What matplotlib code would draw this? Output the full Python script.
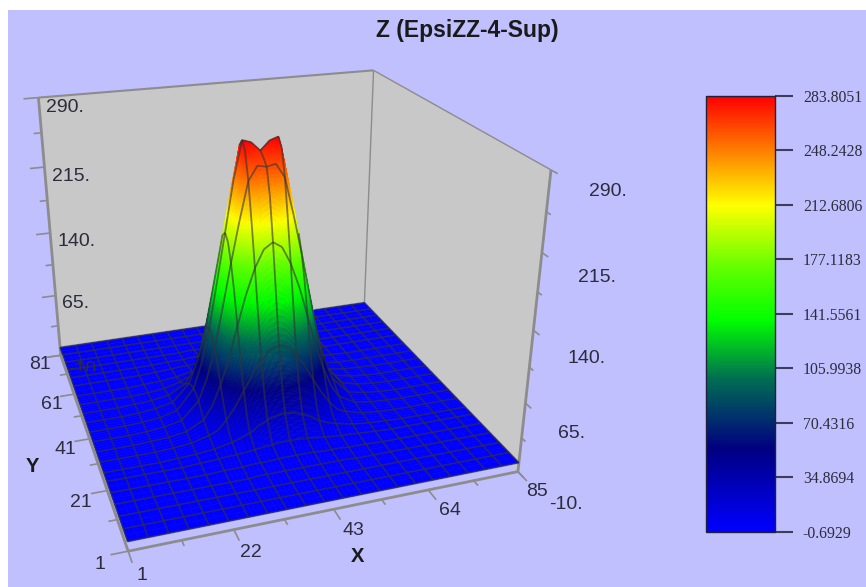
import numpy as np
import matplotlib
matplotlib.use('Agg')
import matplotlib.pyplot as plt
from matplotlib.cm import ScalarMappable
from matplotlib.colors import LinearSegmentedColormap, Normalize
from matplotlib.patches import Rectangle
from matplotlib.path import Path
from matplotlib.transforms import IdentityTransform
from mpl_toolkits.mplot3d import proj3d
from mpl_toolkits.mplot3d.art3d import Poly3DCollection, Line3DCollection

plt.rcParams['font.family'] = ['Liberation Sans', 'DejaVu Sans']

W, H = 866, 587

# surface values, one row per y grid line (finer around the peak)
x_grid = [1, 5, 9, 13, 17, 21, 25, 27, 29, 31, 33, 35, 37, 39, 41, 43, 45, 47, 49, 51, 53, 55, 57, 61, 65, 69, 73, 77, 81, 85]
y_grid = [1, 5, 9, 13, 17, 21, 24.2, 26.2, 28.2, 30.2, 32.2, 34.2, 36.2, 38.2, 40.2, 42.2, 44.2, 46.2, 48.2, 50.2, 52.2, 54.2, 56.2, 61, 65, 69, 73, 77, 81]
z_rows = [
    [0, 0, 0, 0, 0, 0, 0, 0, 0, 0, 0, 0, 0, 0, 0, 0, 0, 0, 0, 0, 0, 0, 0, 0, 0, 0, 0, 0, 0, 0],
    [0, 0, 0, 0, 0, 0, 0, 0, 0, 0, 0, 0, 0, 0, 0, 0, 0, 0, 0, 0, 0, 0, 0, 0, 0, 0, 0, 0, 0, 0],
    [0, 0, 0, 0, 0, 0, 0, 0, 0, 0, 0, 0, 0, 0, 0, 0, 0, 0, 0, 0, 0, 0, 0, 0, 0, 0, 0, 0, 0, 0],
    [0, 0, 0, 0, 0, 0, 0, 0, 0, 1, 1, 1, 1, 1, 1, 1, 1, 1, 1, 1, 0, 0, 0, 0, 0, 0, 0, 0, 0, 0],
    [0, 0, 0, 0, 0, 0, 1, 1, 1, 2, 2, 2, 3, 3, 3, 3, 3, 2, 2, 2, 1, 1, 1, 0, 0, 0, 0, 0, 0, 0],
    [0, 0, 0, 0, 0, 1, 2, 3, 3, 4, 5, 6, 7, 8, 8, 8, 7, 6, 5, 4, 3, 3, 2, 1, 0, 0, 0, 0, 0, 0],
    [0, 0, 0, 0, 1, 2, 4, 6, 8, 11, 15, 21, 26, 29, 30, 29, 26, 21, 15, 11, 8, 6, 4, 2, 1, 0, 0, 0, 0, 0],
    [0, 0, 0, 0, 1, 3, 6, 9, 12, 20, 29, 40, 49, 55, 57, 55, 49, 40, 29, 20, 12, 9, 6, 3, 1, 0, 0, 0, 0, 0],
    [0, 0, 0, 0, 1, 3, 8, 12, 22, 35, 51, 68, 81, 92, 95, 92, 81, 68, 51, 35, 22, 12, 8, 3, 1, 0, 0, 0, 0, 0],
    [0, 0, 0, 1, 2, 4, 11, 20, 35, 55, 78, 103, 125, 139, 144, 139, 125, 103, 78, 55, 35, 20, 11, 4, 2, 1, 0, 0, 0, 0],
    [0, 0, 0, 1, 2, 5, 15, 29, 51, 78, 112, 144, 170, 188, 194, 188, 170, 144, 112, 78, 51, 29, 15, 5, 2, 1, 0, 0, 0, 0],
    [0, 0, 0, 1, 2, 6, 21, 40, 68, 103, 144, 182, 212, 231, 237, 231, 212, 182, 144, 103, 68, 40, 21, 6, 2, 1, 0, 0, 0, 0],
    [0, 0, 0, 1, 3, 7, 26, 49, 81, 125, 170, 212, 250, 264, 262, 264, 250, 212, 170, 125, 81, 49, 26, 7, 3, 1, 0, 0, 0, 0],
    [0, 0, 0, 1, 3, 8, 29, 55, 92, 139, 188, 233, 276, 270, 268, 270, 276, 233, 188, 139, 92, 55, 29, 8, 3, 1, 0, 0, 0, 0],
    [0, 0, 0, 1, 3, 8, 30, 57, 95, 144, 194, 245, 284, 281, 272, 281, 284, 245, 194, 144, 95, 57, 30, 8, 3, 1, 0, 0, 0, 0],
    [0, 0, 0, 1, 3, 8, 29, 55, 92, 139, 188, 233, 276, 270, 268, 270, 276, 233, 188, 139, 92, 55, 29, 8, 3, 1, 0, 0, 0, 0],
    [0, 0, 0, 1, 3, 7, 26, 49, 81, 125, 170, 212, 250, 264, 262, 264, 250, 212, 170, 125, 81, 49, 26, 7, 3, 1, 0, 0, 0, 0],
    [0, 0, 0, 1, 2, 6, 21, 40, 68, 103, 144, 182, 212, 231, 237, 231, 212, 182, 144, 103, 68, 40, 21, 6, 2, 1, 0, 0, 0, 0],
    [0, 0, 0, 1, 2, 5, 15, 29, 51, 78, 112, 144, 170, 188, 194, 188, 170, 144, 112, 78, 51, 29, 15, 5, 2, 1, 0, 0, 0, 0],
    [0, 0, 0, 1, 2, 4, 11, 20, 35, 55, 78, 103, 125, 139, 144, 139, 125, 103, 78, 55, 35, 20, 11, 4, 2, 1, 0, 0, 0, 0],
    [0, 0, 0, 0, 1, 3, 8, 12, 22, 35, 51, 68, 81, 92, 95, 92, 81, 68, 51, 35, 22, 12, 8, 3, 1, 0, 0, 0, 0, 0],
    [0, 0, 0, 0, 1, 3, 6, 9, 12, 20, 29, 40, 49, 55, 57, 55, 49, 40, 29, 20, 12, 9, 6, 3, 1, 0, 0, 0, 0, 0],
    [0, 0, 0, 0, 1, 2, 4, 6, 8, 11, 15, 21, 26, 29, 30, 29, 26, 21, 15, 11, 8, 6, 4, 2, 1, 0, 0, 0, 0, 0],
    [0, 0, 0, 0, 0, 1, 2, 3, 3, 4, 5, 6, 7, 8, 8, 8, 7, 6, 5, 4, 3, 3, 2, 1, 0, 0, 0, 0, 0, 0],
    [0, 0, 0, 0, 0, 0, 1, 1, 1, 2, 2, 2, 3, 3, 3, 3, 3, 2, 2, 2, 1, 1, 1, 0, 0, 0, 0, 0, 0, 0],
    [0, 0, 0, 0, 0, 0, 0, 0, 0, 1, 1, 1, 1, 1, 1, 1, 1, 1, 1, 1, 0, 0, 0, 0, 0, 0, 0, 0, 0, 0],
    [0, 0, 0, 0, 0, 0, 0, 0, 0, 0, 0, 0, 0, 0, 0, 0, 0, 0, 0, 0, 0, 0, 0, 0, 0, 0, 0, 0, 0, 0],
    [0, 0, 0, 0, 0, 0, 0, 0, 0, 0, 0, 0, 0, 0, 0, 0, 0, 0, 0, 0, 0, 0, 0, 0, 0, 0, 0, 0, 0, 0],
    [0, 0, 0, 0, 0, 0, 0, 0, 0, 0, 0, 0, 0, 0, 0, 0, 0, 0, 0, 0, 0, 0, 0, 0, 0, 0, 0, 0, 0, 0],
]
# which grid lines carry a drawn mesh line
x_mesh = [1, 5, 9, 13, 17, 21, 25, 29, 33, 37, 41, 45, 49, 53, 57, 61, 65, 69, 73, 77, 81, 85]
y_mesh = [1, 5, 9, 13, 17, 21, 24.2, 28.2, 32.2, 36.2, 40.2, 44.2, 48.2, 52.2, 56.2, 61, 65, 69, 73, 77, 81]

x_ticks = [1, 22, 43, 64, 85]
y_ticks = [1, 21, 41, 61, 81]
z_ticks = [-10, 65, 140, 215, 290]
bar_ticks = [-0.6929, 34.8694, 70.4316, 105.9938, 141.5561, 177.1183, 212.6806, 248.2428, 283.8051]
bar_labels = ['-0.6929', '34.8694', '70.4316', '105.9938', '141.5561', '177.1183', '212.6806', '248.2428', '283.8051']

cmap = LinearSegmentedColormap.from_list('rainbow3d', [
    (0.0, (0, 0, 1)), (0.19, (0, 0, 0.5)), (0.35, (0, 0.43, 0.32)), (0.486, (0, 1, 0)),
    (0.61, (0.4, 1, 0)), (0.75, (1, 1, 0)), (1.0, (1, 0, 0))])
norm = Normalize(bar_ticks[0], bar_ticks[-1])

fig = plt.figure(figsize=(W / 100, H / 100), dpi=100, facecolor='white')
fig.add_artist(Rectangle((8 / W, 0), 1, 1 - 10 / H, transform=fig.transFigure,
                         fc='#c0c0ff', ec='none', zorder=-1))

# axes square and view come from a fit to the box corners in the picture
ax = fig.add_axes([-37.9 / W, 4.1 / H, 596.05 / W, 596.05 / H], projection='3d', computed_zorder=False)
ax.set_xlim(1, 85)
ax.set_ylim(1, 81)
ax.set_zlim(-10, 290)
ax.view_init(elev=24.04, azim=-108.48)
ax.set_proj_type('persp', focal_length=0.3425)
ax.set_box_aspect((1.2184, 1.2074, 0.9753))
ax.set_axis_off()
ax.patch.set_visible(False)

xmin, xmax = x_ticks[0], x_ticks[-1]
ymin, ymax = y_ticks[0], y_ticks[-1]
zmin, zmax = z_ticks[0], z_ticks[-1]

# walls
walls = [[(xmin, ymax, zmin), (xmax, ymax, zmin), (xmax, ymax, zmax), (xmin, ymax, zmax)],
         [(xmax, ymax, zmin), (xmax, ymin, zmin), (xmax, ymin, zmax), (xmax, ymax, zmax)]]
ax.add_collection3d(Poly3DCollection(walls, facecolors='#c8c8c8', edgecolors='none', zorder=1))

# box lines and ticks
axis_c = '#8c8c8c'
txt_c = '#2c2c3c'
def seg(p, q, lw=2.0, z=3):
    ax.plot([p[0], q[0]], [p[1], q[1]], [p[2], q[2]], color=axis_c, lw=lw, zorder=z, solid_capstyle='butt')

seg((xmin, ymax, zmin), (xmin, ymax, zmax))
seg((xmax, ymin, zmin), (xmax, ymin, zmax))
seg((xmin, ymin, zmin), (xmax, ymin, zmin), z=6)
seg((xmin, ymin, zmin), (xmin, ymax, zmin), z=6)
seg((xmin, ymax, zmax), (xmax, ymax, zmax), lw=1.5)
seg((xmax, ymax, zmax), (xmax, ymin, zmax), lw=1.0)
seg((xmax, ymax, zmin), (xmax, ymax, zmax), lw=1.0)

for i, v in enumerate(z_ticks):
    seg((xmin, ymax, v), (xmin - 3.4, ymax, v), lw=1.2)
    seg((xmax, ymin, v), (xmax, ymin - 2.2, v), lw=1.2)
    if i < 4:
        m = (v + z_ticks[i + 1]) / 2
        seg((xmin, ymax, m), (xmin - 1.8, ymax, m), lw=1.2)
        seg((xmax, ymin, m), (xmax, ymin - 1.5, m), lw=1.2)
for i, v in enumerate(x_ticks):
    seg((v, ymin, zmin), (v, ymin - 3.5, zmin), lw=1.2, z=6)
    if i < 4:
        m = (v + x_ticks[i + 1]) / 2
        seg((m, ymin, zmin), (m, ymin - 1.8, zmin), lw=1.2, z=6)
for i, v in enumerate(y_ticks):
    seg((xmin, v, zmin), (xmin - 3.4, v, zmin), lw=1.2, z=6)
    if i < 4:
        m = (v + y_ticks[i + 1]) / 2
        seg((xmin, m, zmin), (xmin - 1.8, m, zmin), lw=1.2, z=6)

# tick labels
fs = 14
for v in z_ticks[1:]:
    ax.text(xmin + 1.5, ymax, v - 11, f'{v}.', fontsize=fs, color=txt_c, ha='left', va='center', zorder=2)
    ax.text(xmax, ymin - 12, v, f'{v}.', fontsize=fs, color=txt_c, ha='left', va='center', zorder=2)
ax.text(xmax, ymin - 12, zmin, f'{zmin}.', fontsize=fs, color=txt_c, ha='left', va='center', zorder=2)
# the left -10 label only shows as a sliver on top of the floor
low = ax.text(xmin + 1.5, ymax, zmin - 20, f'{zmin}.', fontsize=fs, color=txt_c, ha='left', va='center', zorder=7)
low.set_clip_path(Rectangle((0, H - 371), W, 371, transform=IdentityTransform()))
low.set_clip_on(True)
for v in x_ticks:
    ax.text(v + (1 if v < xmax else 0), ymin - 7.4, zmin, str(v), fontsize=fs, color=txt_c, ha='center', va='center', zorder=6)
for v in y_ticks:
    ax.text(xmin - 5.5, v, zmin - 8, str(v), fontsize=fs, color=txt_c, ha='center', va='center', zorder=6)

# surface: each grid cell split into small faces so the colour runs smoothly
X, Y = np.meshgrid(np.array(x_grid, float), np.array(y_grid, float))
Z = np.array(z_rows, float)
nr, nc = Z.shape
polys, vals = [], []
for i in range(nr - 1):
    for j in range(nc - 1):
        sub = 8 if Z[i:i + 2, j:j + 2].max() > 15 else 2
        t = np.linspace(0, 1, sub + 1)
        zc = (np.outer(1 - t, 1 - t) * Z[i, j] + np.outer(1 - t, t) * Z[i, j + 1]
              + np.outer(t, 1 - t) * Z[i + 1, j] + np.outer(t, t) * Z[i + 1, j + 1])
        xc = X[i, j] + t * (X[i, j + 1] - X[i, j])
        yc = Y[i, j] + t * (Y[i + 1, j] - Y[i, j])
        for a in range(sub):
            for b in range(sub):
                polys.append([(xc[b], yc[a], zc[a, b]), (xc[b + 1], yc[a], zc[a, b + 1]),
                              (xc[b + 1], yc[a + 1], zc[a + 1, b + 1]), (xc[b], yc[a + 1], zc[a + 1, b])])
                vals.append((zc[a, b] + zc[a, b + 1] + zc[a + 1, b + 1] + zc[a + 1, b]) / 4)
cols = cmap(norm(np.array(vals)))
ax.add_collection3d(Poly3DCollection(polys, facecolors=cols, edgecolors=cols, linewidths=0.4, zorder=4))

# mesh lines, hidden parts removed against the tall cells
M = ax.get_proj()
px, py, pz = proj3d.proj_transform(X.ravel(), Y.ravel(), Z.ravel(), M)
px = np.asarray(px).reshape(Z.shape)
py = np.asarray(py).reshape(Z.shape)
pz = np.asarray(pz).reshape(Z.shape)
npiece = 3
s = np.arange(npiece + 1) / npiece
pieces, owners = [], []
for i, yv in enumerate(y_grid):
    if yv not in y_mesh:
        continue
    for j in range(nc - 1):
        for k in range(npiece):
            pieces.append(((i, j), (i, j + 1), s[k], s[k + 1]))
            owners.append({(i - 1, j), (i, j)})
for j, xv in enumerate(x_grid):
    if xv not in x_mesh:
        continue
    for i in range(nr - 1):
        for k in range(npiece):
            pieces.append(((i, j), (i + 1, j), s[k], s[k + 1]))
            owners.append({(i, j - 1), (i, j)})

def lerp(A, p, q, f):
    return A[p] * (1 - f) + A[q] * f

mid2 = np.zeros((len(pieces), 2))
midz = np.zeros(len(pieces))
segs = []
for n, (P, Q, f0, f1) in enumerate(pieces):
    fm = (f0 + f1) / 2
    mid2[n] = lerp(px, P, Q, fm), lerp(py, P, Q, fm)
    midz[n] = lerp(pz, P, Q, fm)
    segs.append([(lerp(X, P, Q, f0), lerp(Y, P, Q, f0), lerp(Z, P, Q, f0)),
                 (lerp(X, P, Q, f1), lerp(Y, P, Q, f1), lerp(Z, P, Q, f1))])

hidden = np.zeros(len(pieces), bool)
for i in range(nr - 1):
    for j in range(nc - 1):
        if Z[i:i + 2, j:j + 2].max() < 3:
            continue
        quad = [(i, j), (i, j + 1), (i + 1, j + 1), (i + 1, j)]
        path = Path([(px[c], py[c]) for c in quad] + [(px[quad[0]], py[quad[0]])])
        inside = path.contains_points(mid2)
        depth = np.mean([pz[c] for c in quad])
        for n in np.nonzero(inside & (midz > depth))[0]:
            if (i, j) not in owners[n]:
                hidden[n] = True
shown = [g for g, h in zip(segs, hidden) if not h]
ax.add_collection3d(Line3DCollection(shown, colors=[(0.2, 0.2, 0.22, 0.6)], linewidths=1.3, zorder=5))

# title and axis names
fig.text(467 / W, 1 - 30 / H, 'Z (EpsiZZ-4-Sup)', fontsize=16.5, fontweight='bold', color='#1a1a1a', ha='center', va='center')
fig.text(32 / W, 1 - 467 / H, 'Y', fontsize=14.5, fontweight='bold', color='#1a1a1a', ha='center', va='center')
fig.text(358 / W, 1 - 556 / H, 'X', fontsize=14.5, fontweight='bold', color='#1a1a1a', ha='center', va='center')

# colour bar
cax = fig.add_axes([706 / W, 1 - 531.5 / H, 69 / W, 435.5 / H])
cb = fig.colorbar(ScalarMappable(norm=norm, cmap=cmap), cax=cax, ticks=bar_ticks)
cb.ax.set_yticklabels(bar_labels, family=['Liberation Serif'], fontsize=11.3, color='#2c2c3c')
cb.ax.tick_params(length=13, width=1.5, color='#3c3c5c', pad=7)
cb.outline.set_edgecolor('#20203c')
cb.outline.set_linewidth(1.0)

fig.savefig('out.png', dpi=100, facecolor=fig.get_facecolor())
